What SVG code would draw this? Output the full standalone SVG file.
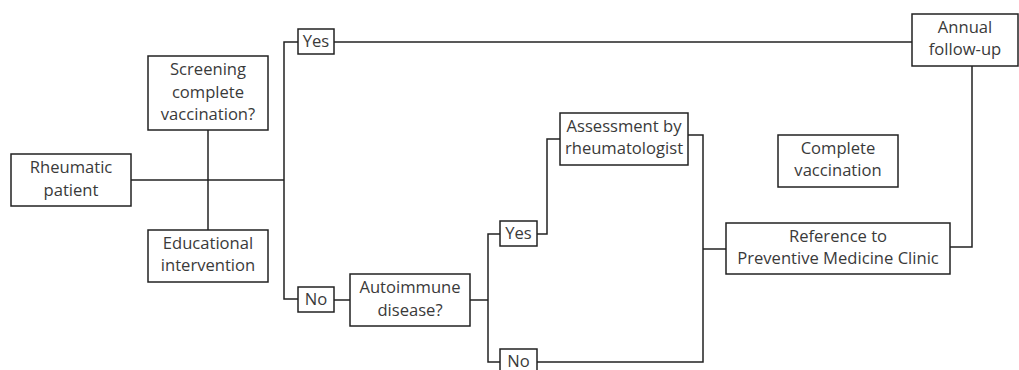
<svg xmlns="http://www.w3.org/2000/svg" width="1019" height="370" viewBox="0 0 1019 370">
<style>
.box{fill:#fff;stroke:#222;stroke-width:1.5}
.ln{fill:none;stroke:#222;stroke-width:1.5}
text{font-family:"Open Sans","Noto Sans",sans-serif;font-size:16.6px;fill:#3a3a3a;text-anchor:middle}
</style>
<rect width="1019" height="370" fill="#fff"/>
<g id="connectors">
<path class="ln" d="M131 180H284"/>
<path class="ln" d="M208 130V230"/>
<path class="ln" d="M298 42H284V299H298"/>
<path class="ln" d="M334 42H912"/>
<path class="ln" d="M334 300H350"/>
<path class="ln" d="M470 300H488"/>
<path class="ln" d="M500 234H488V362H500"/>
<path class="ln" d="M537 234H547V139H560"/>
<path class="ln" d="M688 135H703V362H537"/>
<path class="ln" d="M703 249H726"/>
<path class="ln" d="M950 247H972V66"/>
</g>
<g id="rheumatic"><rect class="box" x="11" y="154" width="120" height="52"/><text x="71" y="173">Rheumatic</text><text x="71" y="196">patient</text></g>
<g id="screening"><rect class="box" x="148" y="56" width="120" height="74"/><text x="208" y="75">Screening</text><text x="208" y="98">complete</text><text x="208" y="120">vaccination?</text></g>
<g id="educational"><rect class="box" x="148" y="230" width="120" height="52"/><text x="208" y="249">Educational</text><text x="208" y="271">intervention</text></g>
<g id="yes1"><rect class="box" x="298" y="29" width="36" height="25"/><text x="316" y="47">Yes</text></g>
<g id="no1"><rect class="box" x="298" y="287" width="36" height="25"/><text x="316" y="305">No</text></g>
<g id="autoimmune"><rect class="box" x="350" y="274" width="120" height="52"/><text x="410" y="293">Autoimmune</text><text x="410" y="316">disease?</text></g>
<g id="yes2"><rect class="box" x="500" y="221" width="37" height="25"/><text x="518.5" y="239">Yes</text></g>
<g id="no2"><rect class="box" x="500" y="349" width="37" height="25"/><text x="518.5" y="367">No</text></g>
<g id="assessment"><rect class="box" x="560" y="113" width="128" height="52"/><text x="624" y="132">Assessment by</text><text x="624" y="154">rheumatologist</text></g>
<g id="complete"><rect class="box" x="778" y="135" width="120" height="52"/><text x="838" y="154">Complete</text><text x="838" y="176">vaccination</text></g>
<g id="reference"><rect class="box" x="726" y="223" width="224" height="51"/><text x="838" y="242">Reference to</text><text x="838" y="264">Preventive Medicine Clinic</text></g>
<g id="annual"><rect class="box" x="912" y="14" width="106" height="52"/><text x="965" y="33">Annual</text><text x="965" y="55">follow-up</text></g>
</svg>
